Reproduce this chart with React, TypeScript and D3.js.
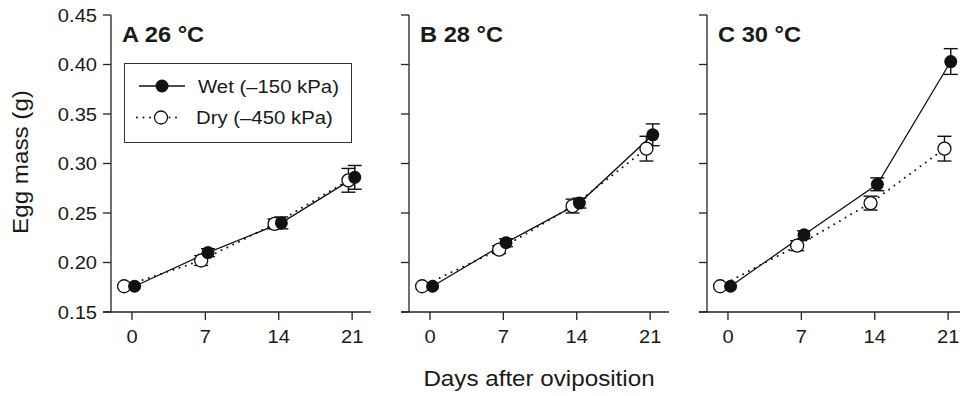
import React from 'react';
import * as d3 from 'd3';

const days = [0, 7, 14, 21];
const yTicks = [0.15, 0.2, 0.25, 0.3, 0.35, 0.4, 0.45];
const panelLabels = ['A 26 °C', 'B 28 °C', 'C 30 °C'];
const wetX = [0.25, 7.25, 14.25, 21.25];
const dryX = [-0.75, 6.6, 13.6, 20.65];
const wetMean = [
  [0.176, 0.21, 0.24, 0.286],
  [0.176, 0.22, 0.26, 0.329],
  [0.176, 0.228, 0.279, 0.403],
];
const wetErr = [
  [0, 0.004, 0.006, 0.012],
  [0, 0.004, 0.005, 0.011],
  [0, 0.004, 0.0065, 0.013],
];
const dryMean = [
  [0.176, 0.202, 0.239, 0.283],
  [0.176, 0.213, 0.257, 0.315],
  [0.176, 0.217, 0.26, 0.315],
];
const dryErr = [
  [0, 0.005, 0.005, 0.012],
  [0, 0.004, 0.007, 0.0125],
  [0, 0.005, 0.007, 0.0125],
];
const legendLabels = ['Wet (\u2013150 kPa)', 'Dry (\u2013450 kPa)'];
const yTitle = 'Egg mass (g)';
const xTitle = 'Days after oviposition';

const FONT = '"Liberation Sans", Arial, Helvetica, sans-serif';
const AX = '#222';

function T({ x, y, sx = 1.1, size, anchor = 'start', weight = 'normal', rotate = 0, children }: any) {
  return (
    <text
      transform={`translate(${x},${y}) rotate(${rotate}) scale(${sx},1)`}
      fontSize={size}
      fontFamily={FONT}
      fontWeight={weight}
      textAnchor={anchor}
      fill="#1a1a1a"
    >
      {children}
    </text>
  );
}

export default function App() {
  const W = 960, H = 396;
  const panelLeft = [111, 409, 707];
  const axisW = 260;
  const y = d3.scaleLinear().domain([0.15, 0.45]).range([312, 15]);
  const xBase = d3.scaleLinear().domain([-2, 22.8]).range([0, axisW]);
  const tickLen = 8;
  const r = 6.5;
  const cap = 7;
  const lg = d3.line();

  return (
    <svg width={W} height={H} style={{ position: 'absolute', left: 0, top: 0 }}>
      <rect width={W} height={H} fill="#fff" />
      {panelLabels.map((lab, p) => {
        const L = panelLeft[p];
        const x = (v: number) => L + xBase(v);
        const wetPts: [number, number][] = wetX.map((d, i) => [x(d), y(wetMean[p][i])]);
        const dryPts: [number, number][] = dryX.map((d, i) => [x(d), y(dryMean[p][i])]);
        return (
          <g key={p}>
            <line x1={L} x2={L} y1={y(0.45)} y2={y(0.15)} stroke={AX} strokeWidth={1.3} />
            <line x1={L - tickLen} x2={L + axisW} y1={y(0.15)} y2={y(0.15)} stroke={AX} strokeWidth={1.3} />
            {yTicks.map((t) => (
              <g key={t}>
                <line x1={L - tickLen} x2={L} y1={y(t)} y2={y(t)} stroke={AX} strokeWidth={1.3} />
                {p === 0 && (
                  <T x={L - 14} y={y(t) + 6.5} size={18.3} anchor="end">
                    {d3.format('.2f')(t)}
                  </T>
                )}
              </g>
            ))}
            {days.map((d) => (
              <g key={d}>
                <line x1={x(d)} x2={x(d)} y1={y(0.15)} y2={y(0.15) + tickLen} stroke={AX} strokeWidth={1.3} />
                <T x={x(d)} y={343} size={18.3} anchor="middle">
                  {d}
                </T>
              </g>
            ))}
            <T x={L + 11} y={42} size={21.5} weight="bold" sx={1.1}>
              {lab}
            </T>
            <path d={lg(dryPts) || ''} fill="none" stroke="#111" strokeWidth={2} strokeDasharray="0 6.5" strokeLinecap="round" />
            <path d={lg(wetPts) || ''} fill="none" stroke="#111" strokeWidth={1.3} />
            {dryPts.map(([px], i) =>
              dryErr[p][i] > 0 ? (
                <g key={'de' + i} stroke="#111" strokeWidth={1.4}>
                  <line x1={px} x2={px} y1={y(dryMean[p][i] + dryErr[p][i])} y2={y(dryMean[p][i] - dryErr[p][i])} />
                  <line x1={px - cap} x2={px + cap} y1={y(dryMean[p][i] + dryErr[p][i])} y2={y(dryMean[p][i] + dryErr[p][i])} />
                  <line x1={px - cap} x2={px + cap} y1={y(dryMean[p][i] - dryErr[p][i])} y2={y(dryMean[p][i] - dryErr[p][i])} />
                </g>
              ) : null
            )}
            {wetPts.map(([px], i) =>
              wetErr[p][i] > 0 ? (
                <g key={'we' + i} stroke="#111" strokeWidth={1.4}>
                  <line x1={px} x2={px} y1={y(wetMean[p][i] + wetErr[p][i])} y2={y(wetMean[p][i] - wetErr[p][i])} />
                  <line x1={px - cap} x2={px + cap} y1={y(wetMean[p][i] + wetErr[p][i])} y2={y(wetMean[p][i] + wetErr[p][i])} />
                  <line x1={px - cap} x2={px + cap} y1={y(wetMean[p][i] - wetErr[p][i])} y2={y(wetMean[p][i] - wetErr[p][i])} />
                </g>
              ) : null
            )}
            {dryPts.map(([px, py], i) => (
              <circle key={'dc' + i} cx={px} cy={py} r={r} fill="#fff" stroke="#111" strokeWidth={1.3} />
            ))}
            {wetPts.map(([px, py], i) => (
              <circle key={'wc' + i} cx={px} cy={py} r={r} fill="#111" />
            ))}
          </g>
        );
      })}
      <rect x={124.5} y={63.5} width={227} height={79} fill="#fff" stroke="#333" strokeWidth={1} />
      <line x1={139} x2={185} y1={86} y2={86} stroke="#111" strokeWidth={1.3} />
      <circle cx={162} cy={86} r={r} fill="#111" />
      <T x={198} y={92.5} size={18.5}>{legendLabels[0]}</T>
      <line x1={137} x2={182} y1={117.5} y2={117.5} stroke="#111" strokeWidth={2} strokeDasharray="0 6.5" strokeLinecap="round" />
      <circle cx={161} cy={117.5} r={r} fill="#fff" stroke="#111" strokeWidth={1.3} />
      <T x={196} y={124} size={18.5}>{legendLabels[1]}</T>
      <T x={539} y={386} size={22} anchor="middle" sx={1.1}>{xTitle}</T>
      <T x={28} y={162} size={22} anchor="middle" sx={1.1} rotate={-90}>{yTitle}</T>
    </svg>
  );
}
